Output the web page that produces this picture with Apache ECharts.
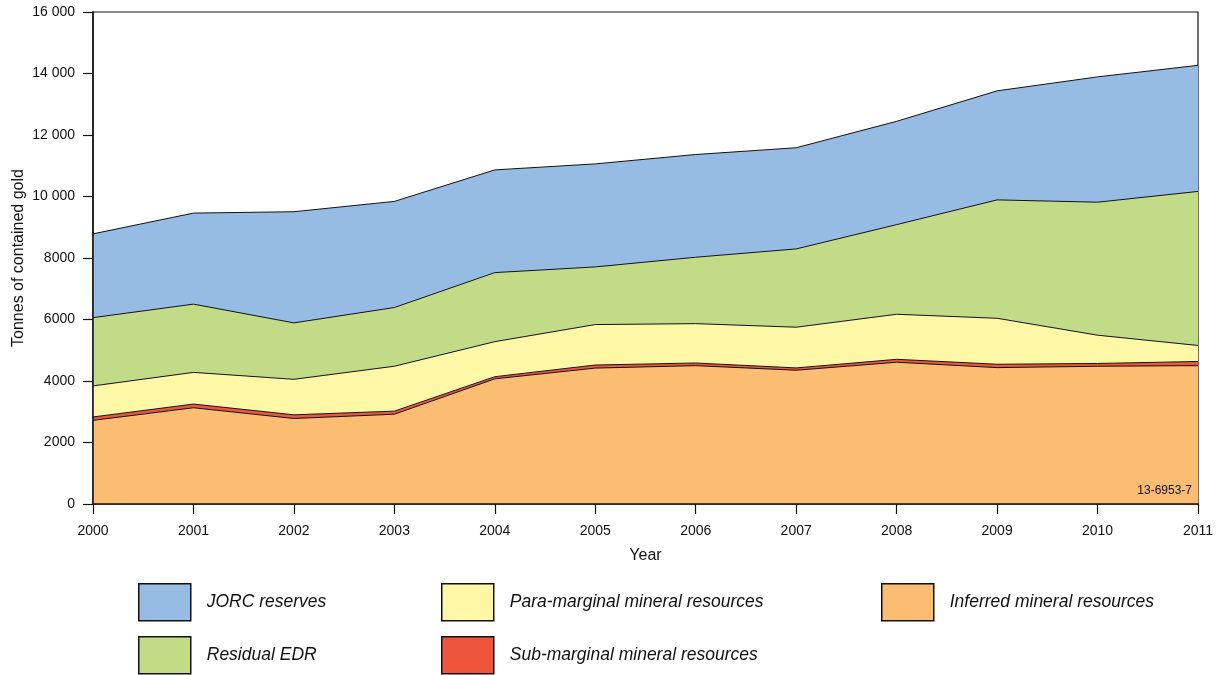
<!DOCTYPE html>
<html>
<head>
<meta charset="utf-8">
<script src="https://cdn.jsdelivr.net/npm/echarts@6/dist/echarts.min.js"></script>
<style>
html,body{margin:0;padding:0;background:#fff;}
#chart{width:1221px;height:675px;}
</style>
</head>
<body>
<div id="chart"></div>
<script>
var years = ['2000','2001','2002','2003','2004','2005','2006','2007','2008','2009','2010','2011'];
var inferred     = [2720, 3130, 2780, 2920, 4070, 4420, 4500, 4350, 4610, 4435, 4480, 4500];
var subMarginal  = [110, 120, 120, 100, 70, 100, 85, 75, 95, 110, 90, 135];
var paraMarginal = [1010, 1030, 1155, 1460, 1140, 1315, 1280, 1325, 1465, 1495, 920, 520];
var residualEDR  = [2220, 2220, 1835, 1910, 2245, 1875, 2160, 2545, 2915, 3850, 4325, 5010];
var jorc         = [2725, 2960, 3615, 3450, 3340, 3350, 3340, 3290, 3360, 3545, 4075, 4100];
var yTicks = [0, 2000, 4000, 6000, 8000, 10000, 12000, 14000, 16000];

var names = {
  jorc: 'JORC reserves',
  edr: 'Residual EDR',
  para: 'Para-marginal mineral resources',
  sub: 'Sub-marginal mineral resources',
  inf: 'Inferred mineral resources'
};
var colors = {
  jorc: '#97bce3',
  edr: '#c2db87',
  para: '#fef7a6',
  sub: '#ef553b',
  inf: '#fbbd71'
};

var FONT = '"Liberation Sans", Arial, Helvetica, sans-serif';

function mkSeries(key, data) {
  return {
    name: names[key],
    type: 'line',
    stack: 'total',
    data: data,
    symbol: 'none',
    lineStyle: { color: '#111', width: 1 },
    areaStyle: { color: colors[key], opacity: 1 },
    itemStyle: { color: colors[key] },
    emphasis: { disabled: true },
    z: 2
  };
}

function mkLegend(key, left, top) {
  return {
    data: [{ name: names[key], icon: 'rect',
             itemStyle: { color: colors[key], borderColor: '#111', borderWidth: 1.5 } }],
    left: left, top: top,
    padding: 0,
    itemWidth: 52, itemHeight: 37,
    selectedMode: false,
    textStyle: { fontFamily: FONT, fontSize: 17.5, fontStyle: 'italic', color: '#111', padding: [0, 0, 0, 11] }
  };
}

var chart = echarts.init(document.getElementById('chart'), null, { renderer: 'canvas' });
chart.setOption({
  animation: false,
  backgroundColor: '#fff',
  textStyle: { fontFamily: FONT },
  grid: { left: 93, right: 23, top: 12, bottom: 171, containLabel: false, outerBoundsMode: 'none',
          show: true, borderColor: '#111', borderWidth: 1.2, backgroundColor: 'transparent' },
  legend: [
    mkLegend('jorc', 138, 583),
    mkLegend('edr', 138, 636),
    mkLegend('para', 441, 583),
    mkLegend('sub', 441, 636),
    mkLegend('inf', 881, 583)
  ],
  title: {
    text: '13-6953-7',
    right: 29, top: 485, padding: 0,
    textStyle: { fontFamily: FONT, fontSize: 12, fontWeight: 'normal', color: '#111' }
  },
  xAxis: {
    type: 'category',
    data: years,
    boundaryGap: false,
    name: 'Year',
    nameLocation: 'middle',
    nameGap: 44,
    nameTextStyle: { fontFamily: FONT, fontSize: 16, color: '#111' },
    axisLine: { lineStyle: { color: '#111', width: 1.5 } },
    axisTick: { show: true, length: 10, lineStyle: { color: '#111', width: 1.2 } },
    axisLabel: { fontFamily: FONT, fontSize: 14, color: '#111', margin: 20 },
    splitLine: { show: false },
    z: 5
  },
  yAxis: {
    type: 'value',
    min: 0, max: 16000, interval: 2000,
    name: 'Tonnes of contained gold',
    nameLocation: 'middle',
    nameGap: 66,
    nameMoveOverlap: false,
    nameTextStyle: { fontFamily: FONT, fontSize: 16, color: '#111' },
    axisLine: { show: true, lineStyle: { color: '#111', width: 1.5 } },
    axisTick: { show: true, length: 10, lineStyle: { color: '#111', width: 1.2 } },
    axisLabel: {
      fontFamily: FONT, fontSize: 14, color: '#111', margin: 18,
      formatter: function (v) {
        if (yTicks.indexOf(v) < 0) return '';
        return v >= 10000 ? String(v).replace(/(\d{2})(\d{3})$/, '$1 $2') : String(v);
      }
    },
    splitLine: { show: false },
    z: 5
  },
  series: [
    mkSeries('inf', inferred),
    mkSeries('sub', subMarginal),
    mkSeries('para', paraMarginal),
    mkSeries('edr', residualEDR),
    mkSeries('jorc', jorc)
  ]
});
</script>
</body>
</html>
